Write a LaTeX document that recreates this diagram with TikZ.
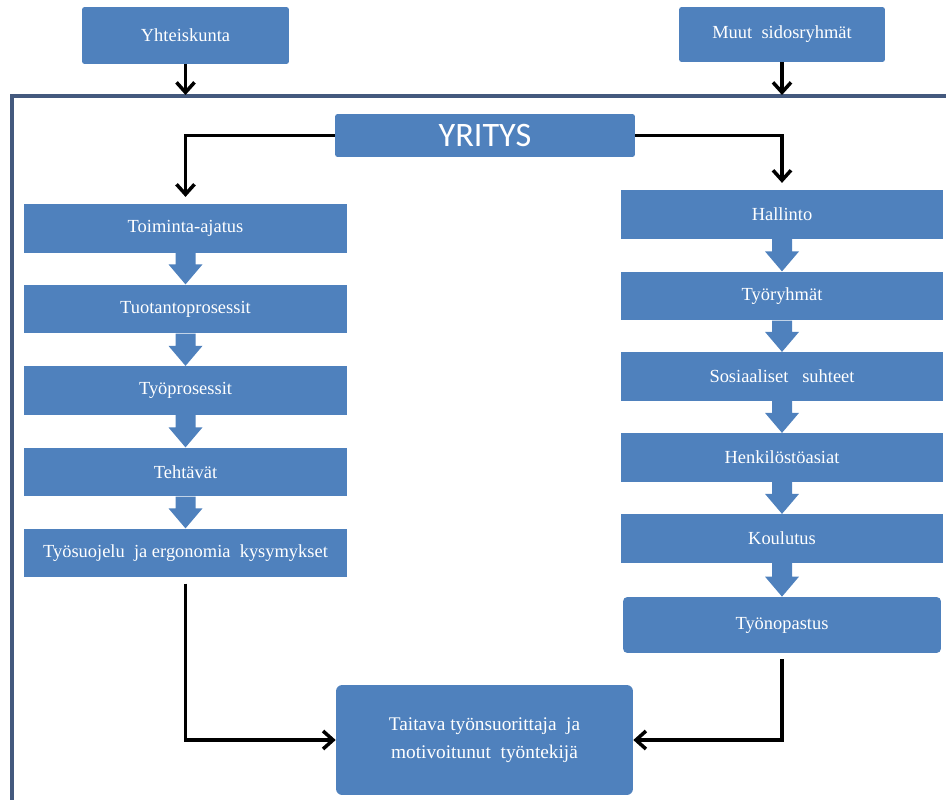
\documentclass[tikz,border=0pt]{standalone}
\usepackage{fontspec}
\setmainfont{Liberation Serif}
\newfontfamily\yrfont{Carlito}
\usepackage{tikz}
\usetikzlibrary{arrows.meta,calc}
\definecolor{YRBlue}{HTML}{4F81BD}
\definecolor{YRFrame}{HTML}{44597E}

\begin{document}
\begin{tikzpicture}[x=0.02cm,y=-0.02cm,
  yrbox/.style={fill=YRBlue,text=white,inner sep=0pt,align=center,font=\fontsize{10.5}{16}\selectfont},
  leftbox/.style={yrbox,minimum width=6.46cm,minimum height=0.97cm},
  rightbox/.style={yrbox,minimum width=6.44cm,minimum height=0.97cm},
  yrlink/.style={line width=2pt,-{Straight Barb[length=2mm,width=3.6mm]}}]
\path[use as bounding box] (0,0) rectangle (946,800);
\draw[YRFrame,line width=2.3pt] (12,800) |- (946,96);
\node[yrbox,rounded corners=1.5pt,minimum width=4.14cm,minimum height=1.14cm] (yhteis) at (185.5,35.5) {Yhteiskunta};
\node[yrbox,rounded corners=1.5pt,minimum width=4.12cm,minimum height=1.10cm] (muut) at (782,34.5) {Muut~~sidosryhmät};
\coordinate (ftopl) at (185.5,95);
\coordinate (ftopr) at (782,95);
\draw[yrlink] (yhteis) -- (ftopl);
\draw[yrlink] (muut) -- (ftopr);
\node[yrbox,rounded corners=1.5pt,minimum width=6cm,minimum height=0.86cm,font=\yrfont\fontsize{19.5}{22}\selectfont] (yritys) at (485,135.5) {YRITYS};
\node[leftbox] (toim) at (185.5,228.5) {Toiminta-ajatus};
\node[leftbox] (tuot) at (185.5,309) {Tuotantoprosessit};
\node[leftbox] (tyop) at (185.5,390.5) {Työprosessit};
\node[leftbox] (teht) at (185.5,472) {Tehtävät};
\node[leftbox] (tsuo) at (185.5,553) {Työsuojelu~~ja ergonomia~~kysymykset};
\node[rightbox] (hall) at (782,214.5) {Hallinto};
\node[rightbox] (tyor) at (782,296) {Työryhmät};
\node[rightbox] (sosi) at (782,376.5) {Sosiaaliset~~~suhteet};
\node[rightbox] (henk) at (782,457.5) {Henkilöstöasiat};
\node[rightbox] (koul) at (782,538.5) {Koulutus};
\node[yrbox,rounded corners=2.5pt,minimum width=6.36cm,minimum height=1.12cm] (tyon) at (782,625) {Työnopastus};
\node[yrbox,rounded corners=3.5pt,minimum width=5.94cm,minimum height=2.2cm,font=\fontsize{11}{16}\selectfont] (final) at (484.5,740) {Taitava työnsuorittaja~~ja\\motivoitunut~~työntekijä};
\foreach \a/\b in {toim/tuot,tuot/tyop,tyop/teht,teht/tsuo,hall/tyor,tyor/sosi,sosi/henk,henk/koul,koul/tyon}
  \fill[YRBlue] ($(\a.south)+(-10,0)$) -- ($(\a.south)+(10,0)$) -- ($(\b.north)+(10,-20)$)
    -- ($(\b.north)+(17,-20)$) -- (\b.north) -- ($(\b.north)+(-17,-20)$) -- ($(\b.north)+(-10,-20)$) -- cycle;
\draw[yrlink,shorten >=0.14cm] (yritys.west) -| (toim.north);
\draw[yrlink,shorten >=0.14cm] (yritys.east) -| (hall.north);
\draw[yrlink,shorten <=0.12cm] (tsuo.south) |- (final.west);
\draw[yrlink,shorten <=0.12cm] (tyon.south) |- (final.east);
\end{tikzpicture}
\end{document}
